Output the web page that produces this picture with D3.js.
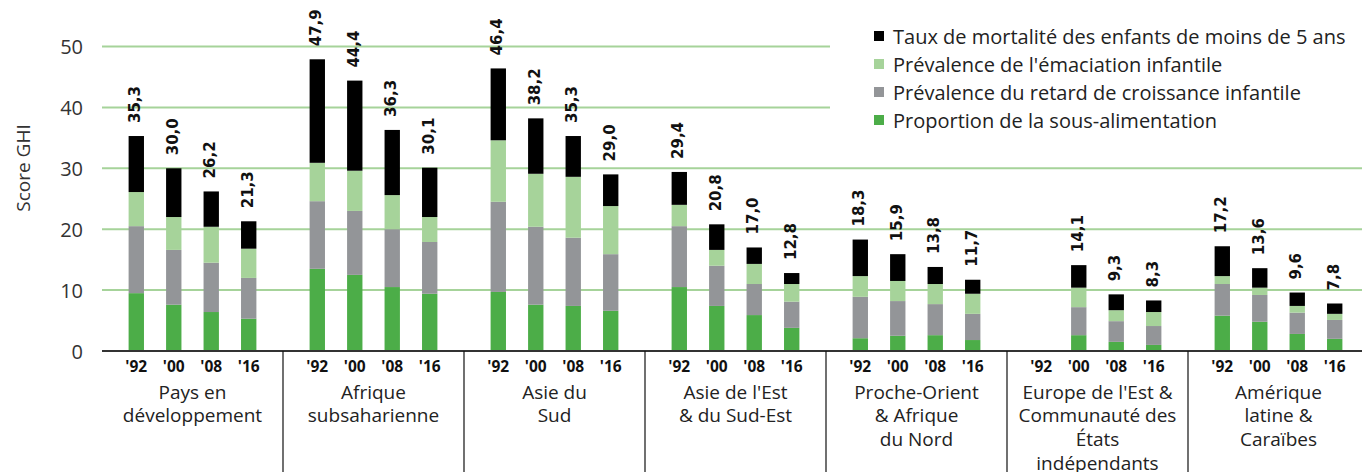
<!DOCTYPE html>
<html>
<head>
<meta charset="utf-8">
<script src="https://cdn.jsdelivr.net/npm/d3@7"></script>
<style>
  body { margin: 0; background: #fff; }
  svg { display: block; font-family: "Open Sans", sans-serif; }
</style>
</head>
<body>
<div id="chart"></div>
<script>
// CONSTANTS
const width = 1362;
const height = 472;
const margin = { left: 102, top: 0 };
const groupWidth = 181;
const gridColor = "#a6d39a";

// DATA
const regions = [
  "Pays en développement",
  "Afrique subsaharienne",
  "Asie du Sud",
  "Asie de l'Est & du Sud-Est",
  "Proche-Orient & Afrique du Nord",
  "Europe de l'Est & Communauté des États indépendants",
  "Amérique latine & Caraïbes",
];
const regionLines = [
  ["Pays en", "développement"],
  ["Afrique", "subsaharienne"],
  ["Asie du", "Sud"],
  ["Asie de l'Est", "& du Sud-Est"],
  ["Proche-Orient", "& Afrique", "du Nord"],
  ["Europe de l'Est &", "Communauté des", "États", "indépendants"],
  ["Amérique", "latine &", "Caraïbes"],
];
const years = ["'92", "'00", "'08", "'16"];

// one value per region and year (region-major order), null = no data
const undernourishment = [
  9.5, 7.6, 6.4, 5.3,
  13.5, 12.5, 10.5, 9.4,
  9.7, 7.6, 7.4, 6.6,
  10.5, 7.4, 5.9, 3.8,
  2.1, 2.5, 2.6, 1.8,
  null, 2.6, 1.5, 1.0,
  5.8, 4.8, 2.8, 2.0,
];
const stunting = [
  11.0, 9.0, 8.1, 6.7,
  11.1, 10.5, 9.5, 8.5,
  14.8, 12.8, 11.2, 9.3,
  10.0, 6.6, 5.1, 4.3,
  6.8, 5.7, 5.1, 4.3,
  null, 4.6, 3.4, 3.1,
  5.2, 4.4, 3.5, 3.1,
];
const wasting = [
  5.6, 5.4, 5.9, 4.8,
  6.3, 6.6, 5.6, 4.1,
  10.1, 8.7, 10.0, 7.9,
  3.5, 2.6, 3.3, 2.9,
  3.4, 3.3, 3.3, 3.3,
  null, 3.2, 1.8, 2.3,
  1.3, 1.2, 1.1, 1.0,
];
const totals = [
  35.3, 30.0, 26.2, 21.3,
  47.9, 44.4, 36.3, 30.1,
  46.4, 38.2, 35.3, 29.0,
  29.4, 20.8, 17.0, 12.8,
  18.3, 15.9, 13.8, 11.7,
  null, 14.1, 9.3, 8.3,
  17.2, 13.6, 9.6, 7.8,
];
const yTicks = [0, 10, 20, 30, 40, 50];

const seriesNames = [
  "Proportion de la sous-alimentation",
  "Prévalence du retard de croissance infantile",
  "Prévalence de l'émaciation infantile",
  "Taux de mortalité des enfants de moins de 5 ans",
];
const seriesColors = ["#4cad48", "#939598", "#a6d39a", "#000000"];

// build rows: mortality is what remains up to the total score
const rows = [];
regions.forEach((r, i) => {
  years.forEach((yr, j) => {
    const k = i * years.length + j;
    if (totals[k] == null) return;
    const a = undernourishment[k], b = stunting[k], c = wasting[k];
    rows.push({
      region: r,
      year: yr,
      total: totals[k],
      parts: [a, b, c, totals[k] - a - b - c],
    });
  });
});

const svg = d3
  .select("#chart")
  .append("svg")
  .attr("width", width)
  .attr("height", height);

// scales
const y = d3.scaleLinear().domain([0, 50]).range([351, 46.5]);
const x0 = d3
  .scaleBand()
  .domain(regions)
  .range([margin.left, margin.left + groupWidth * regions.length]);
const x1 = d3
  .scaleBand()
  .domain(years)
  .range([0, groupWidth])
  .paddingInner(0.59)
  .paddingOuter(0.71);

// gridlines (the top two stop before the legend)
svg
  .append("g")
  .selectAll("line")
  .data(yTicks.filter((t) => t > 0))
  .join("line")
  .attr("x1", margin.left)
  .attr("x2", (d) => (d >= 40 ? 830 : width))
  .attr("y1", (d) => y(d))
  .attr("y2", (d) => y(d))
  .attr("stroke", gridColor)
  .attr("stroke-width", 2);

// y tick labels
svg
  .append("g")
  .selectAll("text")
  .data(yTicks)
  .join("text")
  .attr("x", 83)
  .attr("y", (d) => y(d))
  .attr("text-anchor", "end")
  .attr("dominant-baseline", "central")
  .style("font-size", "20px")
  .style("fill", "#333")
  .text((d) => d);

svg
  .append("text")
  .attr("transform", "translate(23,168) rotate(-90)")
  .attr("text-anchor", "middle")
  .attr("dominant-baseline", "central")
  .style("font-size", "19px")
  .style("fill", "#333")
  .text("Score GHI");

// stacked bars
const barGroups = svg
  .append("g")
  .selectAll("g")
  .data(rows)
  .join("g")
  .attr("transform", (d) => `translate(${x0(d.region) + x1(d.year)},0)`);

barGroups
  .selectAll("rect")
  .data((d) => {
    let acc = 0;
    return d.parts.map((v, i) => {
      const seg = { y0: acc, y1: acc + v, i: i };
      acc += v;
      return seg;
    });
  })
  .join("rect")
  .attr("x", 0)
  .attr("width", x1.bandwidth())
  .attr("y", (d) => y(d.y1))
  .attr("height", (d) => y(d.y0) - y(d.y1))
  .attr("fill", (d) => seriesColors[d.i]);

// value labels
barGroups
  .append("text")
  .attr(
    "transform",
    (d) => `translate(${x1.bandwidth() / 2 - 1},${y(d.total) - 13}) rotate(-90)`
  )
  .attr("dominant-baseline", "central")
  .style("font-size", "15px")
  .style("font-weight", "bold")
  .style("font-family", "'DejaVu Sans', sans-serif")
  .style("fill", "#111")
  .text((d) => d3.format(".1f")(d.total).replace(".", ","));

// baseline
svg
  .append("line")
  .attr("x1", margin.left)
  .attr("x2", width)
  .attr("y1", y(0))
  .attr("y2", y(0))
  .attr("stroke", "#333")
  .attr("stroke-width", 2);

// separators between regions
svg
  .append("g")
  .selectAll("line")
  .data(regions.slice(1))
  .join("line")
  .attr("x1", (d) => x0(d))
  .attr("x2", (d) => x0(d))
  .attr("y1", y(0))
  .attr("y2", height)
  .attr("stroke", "#111")
  .attr("stroke-width", 1.2);

// year ticks
const yearLabels = [];
regions.forEach((r) => years.forEach((yr) => yearLabels.push({ r, yr })));
svg
  .append("g")
  .selectAll("text")
  .data(yearLabels)
  .join("text")
  .attr("x", (d) => x0(d.r) + x1(d.yr) + x1.bandwidth() / 2)
  .attr("y", 366)
  .attr("text-anchor", "middle")
  .attr("dominant-baseline", "central")
  .style("font-size", "15.5px")
  .style("font-weight", "bold")
  .style("fill", "#111")
  .text((d) => d.yr);

// region labels
svg
  .append("g")
  .selectAll("text")
  .data(regions)
  .join("text")
  .attr("x", (d) => x0(d) + groupWidth / 2)
  .attr("y", 392)
  .attr("text-anchor", "middle")
  .style("font-size", "19px")
  .style("fill", "#222")
  .selectAll("tspan")
  .data((d, i) => regionLines[i])
  .join("tspan")
  .attr("x", function () {
    return this.parentNode.getAttribute("x");
  })
  .attr("dy", (d, i) => (i === 0 ? "0.35em" : 23.8))
  .text((d) => d);

// legend (top to bottom: mortality first)
const legendItems = d3.range(seriesNames.length).reverse();
const legend = svg
  .append("g")
  .selectAll("g")
  .data(legendItems)
  .join("g")
  .attr("transform", (d, i) => `translate(874,${36 + i * 28})`);

legend
  .append("rect")
  .attr("x", 0)
  .attr("y", -5)
  .attr("width", 10)
  .attr("height", 10)
  .attr("fill", (d) => seriesColors[d]);

legend
  .append("text")
  .attr("x", 19)
  .attr("y", 0)
  .attr("dominant-baseline", "central")
  .style("font-size", "20px")
  .style("fill", "#222")
  .text((d) => seriesNames[d]);
</script>
</body>
</html>
